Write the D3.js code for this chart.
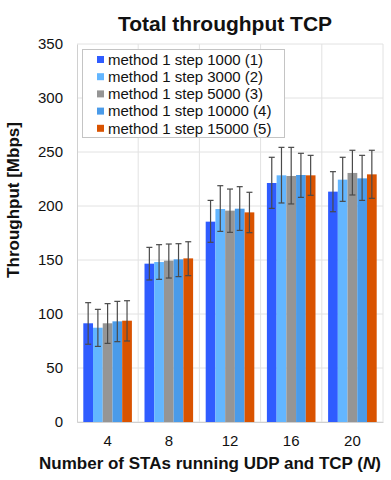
<!DOCTYPE html>
<html><head><meta charset="utf-8">
<script src="https://cdn.jsdelivr.net/npm/d3@7"></script>
<style>body{margin:0;background:#fff}svg{display:block;font-family:"Liberation Sans",Arial,sans-serif}</style>
</head><body><svg id="c" width="391" height="480"></svg>
<script>
const categories = ["4", "8", "12", "16", "20"];
const seriesNames = ["method 1 step 1000 (1)", "method 1 step 3000 (2)", "method 1 step 5000 (3)", "method 1 step 10000 (4)", "method 1 step 15000 (5)"];
const seriesColors = ["#2f5cff", "#63b6ff", "#959595", "#4a9be9", "#d95300"];
const values = [
  [91.4, 146.6, 185.5, 221.3, 213.3],
  [87.3, 148.1, 197.2, 228.4, 224.4],
  [91.4, 149.4, 195.7, 227.8, 230.6],
  [93.2, 150.6, 197.5, 228.7, 225.6],
  [93.8, 151.5, 194.1, 228.4, 229.3]
];
const upper = [
  [110.5, 161.7, 205.2, 245.1, 231.8],
  [104.3, 164.2, 218.8, 254.3, 245.1],
  [109.6, 164.8, 215.7, 254.3, 251.6],
  [111.7, 165.1, 217.9, 248.8, 246.9],
  [112.3, 166.9, 212.7, 246.9, 251.6]
];
const lower = [
  [72.0, 131.5, 166.4, 197.8, 194.7],
  [70.0, 132.1, 176.5, 202.8, 204.3],
  [72.8, 133.3, 175.6, 201.9, 210.2],
  [74.4, 134.6, 177.4, 208.0, 205.2],
  [75.0, 135.5, 175.3, 209.9, 207.1]
];
const yTicks = [0, 50, 100, 150, 200, 250, 300, 350];

const svg = d3.select("#c");
const L = 77, R = 383, T = 44, B = 422;
const x0 = d3.scaleBand().domain(categories).range([L, R]).padding(0);
const x1 = d3.scaleBand().domain(d3.range(seriesNames.length)).range([6.3, x0.bandwidth() - 6.3]).padding(0);
const y = d3.scaleLinear().domain([0, 350]).range([B, T]);

// grid
svg.append("g").selectAll("line").data(yTicks).join("line")
  .attr("x1", L).attr("x2", R).attr("y1", d => y(d)).attr("y2", d => y(d))
  .attr("stroke", "#e2e2e2").attr("stroke-width", 1);
svg.append("g").selectAll("line").data(categories.slice(1).map(c => x0(c)).concat([R])).join("line")
  .attr("x1", d => d).attr("x2", d => d).attr("y1", T).attr("y2", B)
  .attr("stroke", "#e2e2e2").attr("stroke-width", 1);

// axes
const yAxis = svg.append("g").attr("transform", `translate(${L},0)`)
  .call(d3.axisLeft(y).tickValues(yTicks).tickSize(0).tickPadding(14));
yAxis.select(".domain").attr("stroke", "#d0d0d0");
yAxis.selectAll("text").attr("font-size", 15).attr("fill", "#111").attr("font-family", "Liberation Sans, Arial, sans-serif");

const xAxis = svg.append("g").attr("transform", `translate(0,${B})`)
  .call(d3.axisBottom(x0).tickSize(0).tickPadding(13));
xAxis.select(".domain").attr("stroke", "#d0d0d0");
xAxis.selectAll("text").attr("font-size", 15).attr("fill", "#111").attr("font-family", "Liberation Sans, Arial, sans-serif");

// bars
const groups = svg.append("g").selectAll("g").data(categories).join("g")
  .attr("transform", c => `translate(${x0(c)},0)`);
groups.each(function(c, ci) {
  const g = d3.select(this);
  seriesNames.forEach((s, si) => {
    const v = values[si][ci];
    g.append("rect").attr("x", x1(si)).attr("width", x1.bandwidth())
      .attr("y", y(v)).attr("height", y(0) - y(v)).attr("fill", seriesColors[si]);
  });
  seriesNames.forEach((s, si) => {
    const cx = x1(si) + x1.bandwidth() / 2;
    const hi = y(upper[si][ci]), lo = y(lower[si][ci]);
    g.append("line").attr("x1", cx).attr("x2", cx).attr("y1", hi).attr("y2", lo).attr("stroke", "#4a4a4a").attr("stroke-width", 1.2);
    [hi, lo].forEach(yy => g.append("line").attr("x1", cx - 3).attr("x2", cx + 3).attr("y1", yy).attr("y2", yy).attr("stroke", "#4a4a4a").attr("stroke-width", 1.2));
  });
});

// legend
const lg = svg.append("g");
lg.append("rect").attr("x", 82.5).attr("y", 49.5).attr("width", 202).attr("height", 88)
  .attr("fill", "#fff").attr("stroke", "#c4c4c4");
seriesNames.forEach((s, i) => {
  const cy = 59.5 + i * 17.2;
  lg.append("rect").attr("x", 97).attr("y", cy - 3.5).attr("width", 7).attr("height", 7).attr("fill", seriesColors[i]);
  lg.append("text").attr("x", 108).attr("y", cy + 5.3).attr("font-size", 15).attr("fill", "#111").text(s);
});

// titles
svg.append("text").attr("x", 225).attr("y", 31).attr("text-anchor", "middle")
  .attr("font-size", 21).attr("font-weight", "bold").attr("fill", "#111").text("Total throughput TCP");
svg.append("text").attr("transform", `translate(19,200) rotate(-90)`).attr("text-anchor", "middle")
  .attr("font-size", 17).attr("font-weight", "bold").attr("fill", "#111").text("Throughput [Mbps]");
const xt = svg.append("text").attr("x", 210).attr("y", 469).attr("text-anchor", "middle")
  .attr("font-size", 17).attr("font-weight", "bold").attr("fill", "#111");
xt.append("tspan").text("Number of STAs running UDP and TCP (");
xt.append("tspan").attr("font-style", "italic").text("N");
xt.append("tspan").text(")");
</script></body></html>
